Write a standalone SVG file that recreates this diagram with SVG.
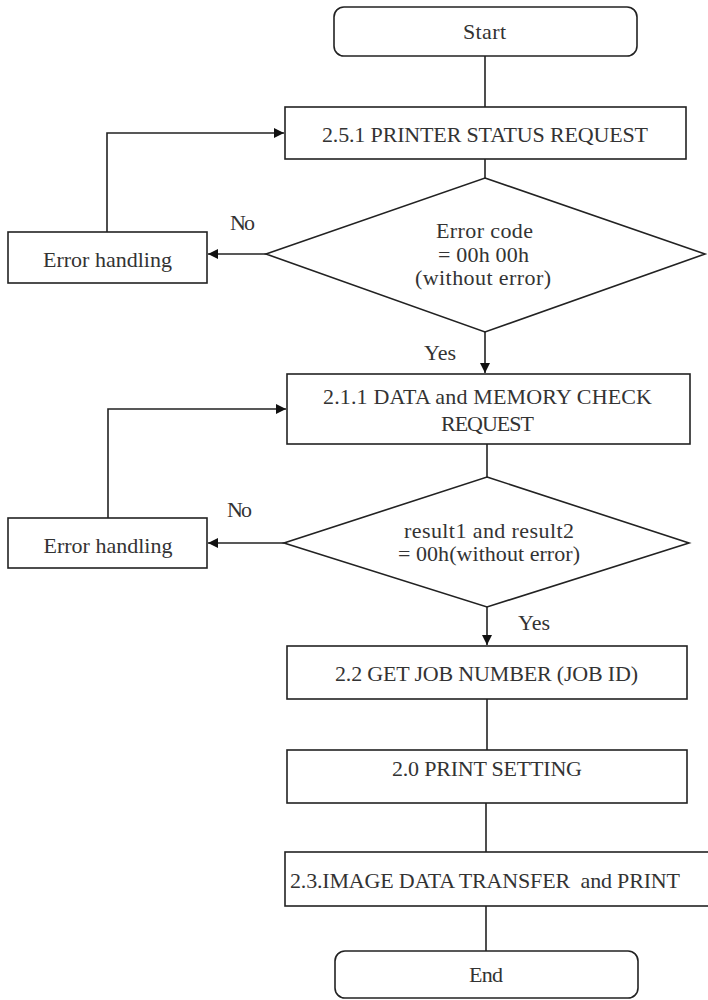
<svg xmlns="http://www.w3.org/2000/svg" width="708" height="1000" viewBox="0 0 708 1000">
<style>
.s{fill:#fff;stroke:#222;stroke-width:1.6}
.c{fill:none;stroke:#222;stroke-width:1.6}
text{font-family:"Liberation Serif","DejaVu Serif",serif;font-size:22px;fill:#333;white-space:pre}
.m{text-anchor:middle}
</style>
<defs>
<marker id="ah" viewBox="0 0 10 10" refX="10" refY="5" markerWidth="10" markerHeight="10" markerUnits="userSpaceOnUse" orient="auto">
<path d="M0,0 L10,5 L0,10 z" fill="#111"/>
</marker>
</defs>
<g id="connectors">
<path class="c" d="M485,56 V107"/>
<path class="c" d="M485,159 V178"/>
<path class="c" d="M266,254 H208" marker-end="url(#ah)"/>
<path class="c" d="M107,232 V133 H284" marker-end="url(#ah)"/>
<path class="c" d="M485,332 V373" marker-end="url(#ah)"/>
<path class="c" d="M487,444 V477"/>
<path class="c" d="M284,543 H208" marker-end="url(#ah)"/>
<path class="c" d="M108,518 V409 H286" marker-end="url(#ah)"/>
<path class="c" d="M487,607 V645" marker-end="url(#ah)"/>
<path class="c" d="M487,699 V750"/>
<path class="c" d="M486,803 V852"/>
<path class="c" d="M486,906 V951"/>
<text x="242.5" y="230" class="m" textLength="25">No</text>
<text x="440" y="360" class="m" textLength="32">Yes</text>
<text x="239.5" y="517" class="m" textLength="25">No</text>
<text x="534" y="630" class="m" textLength="32">Yes</text>
</g>
<g id="start">
<rect class="s" x="334" y="7" width="303" height="49" rx="10"/>
<text x="484.5" y="39" class="m" textLength="43">Start</text>
</g>
<g id="status">
<rect class="s" x="285" y="107" width="401" height="52"/>
<text x="485" y="142" class="m" textLength="326">2.5.1 PRINTER STATUS REQUEST</text>
</g>
<g id="decision1">
<polygon class="s" points="485,178 705,254 485,332 266,254"/>
<text x="484.5" y="238" class="m" textLength="97">Error code</text>
<text x="483.5" y="262" class="m" textLength="91">= 00h 00h</text>
<text x="483" y="285" class="m" textLength="136">(without error)</text>
</g>
<g id="error1">
<rect class="s" x="8" y="232" width="199" height="51"/>
<text x="107.5" y="267" class="m" textLength="129">Error handling</text>
</g>
<g id="memcheck">
<rect class="s" x="287" y="374" width="403" height="70"/>
<text x="487.5" y="404" class="m" textLength="329">2.1.1 DATA and MEMORY CHECK</text>
<text x="487.5" y="431" class="m" textLength="93">REQUEST</text>
</g>
<g id="decision2">
<polygon class="s" points="487,477 689,543 487,607 284,543"/>
<text x="489" y="538" class="m" textLength="170">result1 and result2</text>
<text x="489" y="561" class="m" textLength="182">= 00h(without error)</text>
</g>
<g id="error2">
<rect class="s" x="8" y="518" width="199" height="50"/>
<text x="108" y="553" class="m" textLength="129">Error handling</text>
</g>
<g id="jobnum">
<rect class="s" x="287" y="646" width="400" height="53"/>
<text x="486.5" y="681" class="m" textLength="303">2.2 GET JOB NUMBER (JOB ID)</text>
</g>
<g id="setting">
<rect class="s" x="287" y="750" width="400" height="53"/>
<text x="487" y="776" class="m" textLength="190">2.0 PRINT SETTING</text>
</g>
<g id="transfer">
<rect class="s" x="285" y="852" width="440" height="54"/>
<text x="485" y="888" class="m" textLength="390">2.3.IMAGE DATA TRANSFER  and PRINT</text>
</g>
<g id="end">
<rect class="s" x="335" y="951" width="303" height="47" rx="10"/>
<text x="486" y="982" class="m" textLength="34">End</text>
</g>
</svg>
